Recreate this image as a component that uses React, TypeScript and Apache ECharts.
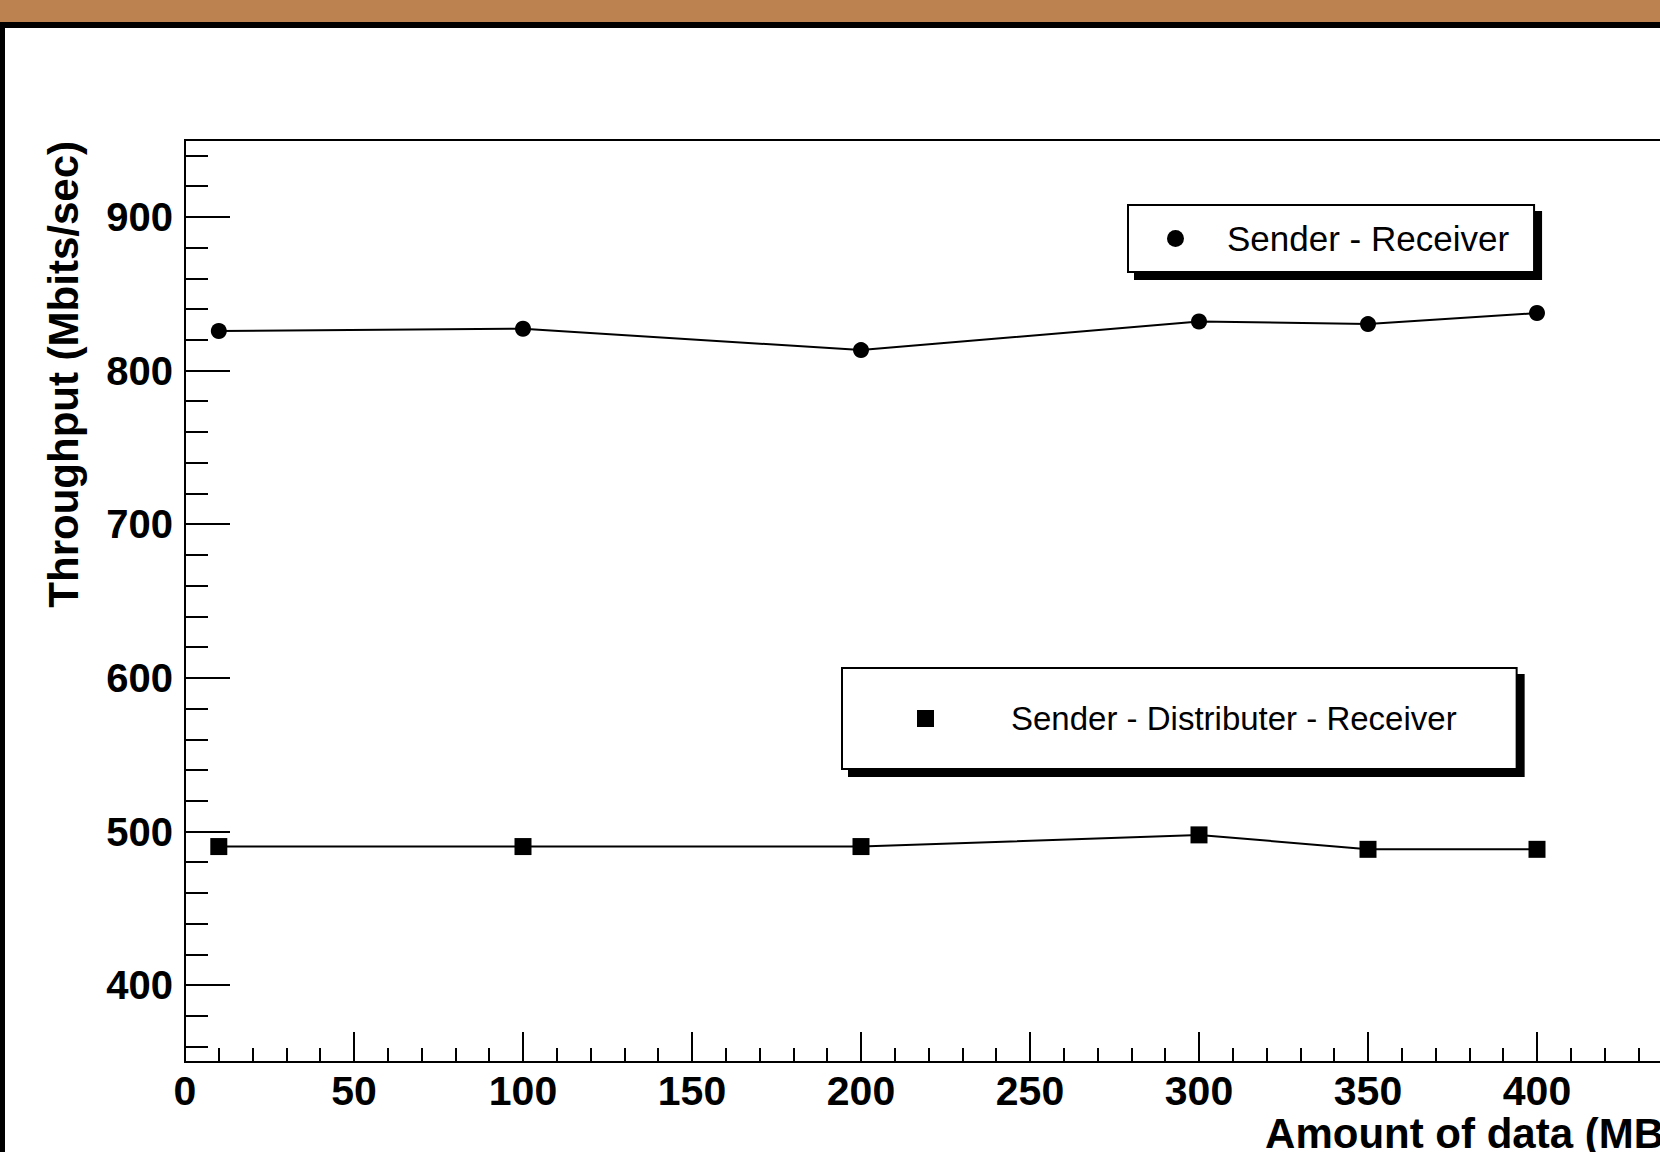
import React, { useEffect, useRef } from "react";
import * as echarts from "echarts";

const xValues = [10, 100, 200, 300, 350, 400];
const senderReceiver = [825.7, 827.2, 813.3, 831.9, 830.2, 837.4];
const senderDistributerReceiver = [490.2, 490.2, 490.2, 497.8, 488.4, 488.4];
const seriesNames = ["Sender - Receiver", "Sender - Distributer - Receiver"];
const yMajorTicks = [400, 500, 600, 700, 800, 900];
const yMinorTicks = [360, 380, 420, 440, 460, 480, 520, 540, 560, 580, 620, 640, 660, 680, 720, 740, 760, 780, 820, 840, 860, 880, 920, 940];
const xAxisTitle = "Amount of data (MB)";
const yAxisTitle = "Throughput (Mbits/sec)";

const FONT = "'Liberation Sans', Arial, Helvetica, sans-serif";
const CIRCLE_ICON = "path://M1,0.5A0.5,0.5,0,1,1,0,0.5A0.5,0.5,0,1,1,1,0.5Z";
const SQUARE_ICON = "path://M0,0L1,0L1,1L0,1Z";

export default function App() {
  const ref = useRef<HTMLDivElement>(null);

  useEffect(() => {
    if (!ref.current) return;
    const chart = echarts.init(ref.current, null, { renderer: "svg" });
    const black = "#000";
    const line = { color: black, width: 2 };

    const legendBase = {
      itemGap: 0,
      itemWidth: 17,
      itemHeight: 17,
      backgroundColor: "#fff",
      borderColor: black,
      borderWidth: 2,
      borderRadius: 0,
      shadowColor: "#000",
      shadowOffsetX: 7,
      shadowOffsetY: 7,
      shadowBlur: 0,
      selectedMode: false,
      symbolKeepAspect: true,
      itemStyle: { color: black, borderWidth: 0 },
    };

    const option: any = {
      animation: false,
      backgroundColor: "#fff",
      textStyle: { fontFamily: FONT },
      graphic: [
        { type: "rect", shape: { x: 0, y: 0, width: 1760, height: 22 }, style: { fill: "#bc8350" }, silent: true },
        { type: "rect", shape: { x: 0, y: 22, width: 1760, height: 6 }, style: { fill: "#000" }, silent: true },
        { type: "rect", shape: { x: 0, y: 22, width: 5, height: 1130 }, style: { fill: "#000" }, silent: true },
      ],
      grid: {
        left: 185,
        top: 140,
        width: 1521,
        height: 922,
        show: true,
        borderColor: black,
        borderWidth: 2,
        backgroundColor: "transparent",
        containLabel: false,
        outerBoundsMode: "none",
      },
      xAxis: {
        type: "value",
        min: 0,
        max: 450,
        interval: 50,
        axisLine: { show: true, lineStyle: line },
        axisTick: { show: true, inside: true, length: 30, lineStyle: line },
        minorTick: { show: true, splitNumber: 5, length: 14, lineStyle: line },
        splitLine: { show: false },
        minorSplitLine: { show: false },
        axisLabel: { color: black, fontSize: 41, fontWeight: "bold", margin: 8, fontFamily: FONT, showMaxLabel: false },
        name: xAxisTitle,
        nameLocation: "end",
        nameGap: -28,
        nameMoveOverlap: false,
        nameTextStyle: {
          color: black,
          fontSize: 42,
          fontWeight: "bold",
          fontFamily: FONT,
          align: "right",
          verticalAlign: "top",
          lineHeight: 42,
          padding: [50, 0, 0, 0],
        },
      },
      yAxis: [
        {
          type: "value",
          min: 350,
          max: 950,
          position: "left",
          axisLine: { show: true, lineStyle: line },
          axisTick: { show: true, inside: true, length: 45, customValues: yMajorTicks, lineStyle: line },
          axisLabel: { customValues: yMajorTicks, color: black, fontSize: 40, fontWeight: "bold", margin: 12, fontFamily: FONT },
          splitLine: { show: false },
          name: yAxisTitle,
          nameLocation: "end",
          nameGap: -1,
          nameRotate: 90,
          nameMoveOverlap: false,
          nameTextStyle: {
            color: black,
            fontSize: 42,
            fontWeight: "bold",
            fontFamily: FONT,
            align: "right",
            verticalAlign: "bottom",
            lineHeight: 42,
            padding: [0, 0, 101, 0],
          },
        },
        {
          type: "value",
          min: 350,
          max: 950,
          position: "left",
          axisLine: { show: false },
          axisLabel: { show: false },
          axisTick: { show: true, inside: true, length: 23, customValues: yMinorTicks, lineStyle: line },
          splitLine: { show: false },
        },
      ],
      legend: [
        {
          ...legendBase,
          data: [{ name: seriesNames[0], icon: CIRCLE_ICON }],
          left: 1128,
          top: 205,
          padding: [16, 25, 16, 39],
          textStyle: { fontSize: 35, lineHeight: 35, color: black, fontFamily: FONT, padding: [0, 0, 0, 38] },
        },
        {
          ...legendBase,
          data: [{ name: seriesNames[1], icon: SQUARE_ICON }],
          left: 842,
          top: 668,
          padding: [34, 60, 34, 75],
          textStyle: { fontSize: 33, lineHeight: 33, color: black, fontFamily: FONT, padding: [0, 0, 0, 72] },
        },
      ],
      series: [
        {
          name: seriesNames[0],
          type: "line",
          xAxisIndex: 0,
          yAxisIndex: 0,
          data: xValues.map((x, i) => [x, senderReceiver[i]]),
          symbol: "circle",
          symbolSize: 16,
          itemStyle: { color: black },
          lineStyle: { color: black, width: 2 },
        },
        {
          name: seriesNames[1],
          type: "line",
          xAxisIndex: 0,
          yAxisIndex: 0,
          data: xValues.map((x, i) => [x, senderDistributerReceiver[i]]),
          symbol: "rect",
          symbolSize: 17,
          itemStyle: { color: black },
          lineStyle: { color: black, width: 2 },
        },
      ],
    };

    chart.setOption(option);
    return () => chart.dispose();
  }, []);

  return (
    <div
      style={{
        position: "fixed",
        left: 0,
        top: 0,
        width: 1660,
        height: 1152,
        overflow: "hidden",
        background: "#fff",
      }}
    >
      <div ref={ref} style={{ width: 1760, height: 1152 }} />
    </div>
  );
}
